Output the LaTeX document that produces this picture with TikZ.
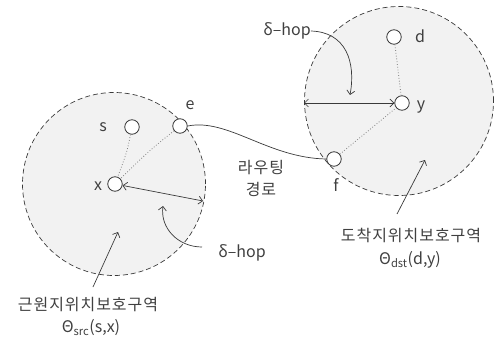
\documentclass[tikz,border=0pt]{standalone}
\usepackage{fontspec}
\setmainfont{Noto Sans CJK KR}
\newfontfamily\kfont[LetterSpace=6]{Noto Sans CJK KR}
\usetikzlibrary{arrows.meta}
\definecolor{zonefill}{HTML}{F2F2F2}
\definecolor{ink}{HTML}{3A3A3A}
\definecolor{txt}{HTML}{404040}
\tikzset{
  zone/.style={circle, draw=ink, dash pattern=on 5pt off 3pt, fill=zonefill, line width=0.7pt, inner sep=0pt},
  pnode/.style={circle, draw=ink, fill=white, line width=0.8pt, minimum size=14.5pt, inner sep=0pt},
  lbl/.style={text=txt, font=\fontsize{16}{18}\selectfont, inner sep=0pt},
  klbl/.style={text=txt, font=\kfont\fontsize{16}{22}\selectfont, inner sep=0pt, align=center},
  link/.style={draw=ink, line width=0.7pt},
  dots/.style={draw=gray, dotted, line width=0.8pt},
  tip/.style={-{Straight Barb[length=4pt,width=8pt]}, draw=ink, line width=0.7pt},
  dtip/.style={{Straight Barb[length=4pt,width=8pt]}-{Straight Barb[length=4pt,width=8pt]}, draw=ink, line width=0.7pt}
}
\begin{document}
\begin{tikzpicture}[x=1pt,y=-1pt]
\useasboundingbox (0,0) rectangle (501,337);
% zones
\node[zone, minimum size=183pt] (Z1) at (114,184) {};
\node[zone, minimum size=189pt] (Z2) at (399,101) {};
% points
\node[pnode] (s) at (132,127) {};
\node[pnode] (e) at (180,126) {};
\node[pnode] (x) at (115,184) {};
\node[pnode] (d) at (394,37) {};
\node[pnode] (y) at (402,103) {};
\node[pnode] (f) at (334,159) {};
% point labels
\node[lbl] (ls) at (103,127) {s};
\node[lbl] (le) at (190,105) {e};
\node[lbl] (lx) at (98,186) {x};
\node[lbl] (ld) at (420,36) {d};
\node[lbl] (ly) at (421,107) {y};
\node[lbl] (lf) at (336,185) {f};
% dotted relations
\draw[dots] (s) .. controls (127,152) .. (x);
\draw[dots] (e) .. controls (150,150) .. (x);
\draw[dots] (d) -- (y);
\draw[dots] (f) -- (y);
% routing path
\draw[link] (e.east) .. controls (228,118) and (268,158) .. (f.west);
\node[klbl] (route) at (261,178) {라우팅\\경로};
% delta-hop radii
\coordinate (r1) at (203,201);
\coordinate (r2) at (304,103);
\draw[dtip] (x) -- (r1);
\draw[dtip] (y) -- (r2);
% delta-hop labels
\node[lbl] (dh1) at (242,253) {δ–hop};
\node[lbl] (dh2) at (287,31) {δ–hop};
\coordinate (a1) at (202,247);
\draw[tip] (a1) .. controls (178,247) and (160,228) .. (163,206);
\draw[tip] (dh2.east) .. controls (346,32) and (356,62) .. (350,95);
% zone labels
\node[klbl] (src) at (88,305) {근원지위치보호구역};
\node[lbl] (srcm) at (91,328) {Θ\textsubscript{src}(s,x)};
\node[klbl] (dst) at (411,235) {도착지위치보호구역};
\node[lbl] (dstm) at (410,260) {Θ\textsubscript{dst}(d,y)};
\coordinate (p1) at (118,232);
\coordinate (p2) at (425,160);
\coordinate (q1) at (93,287);
\coordinate (q2) at (397,214);
\draw[tip] (q1) -- (p1);
\draw[tip] (q2) -- (p2);
\end{tikzpicture}
\end{document}
